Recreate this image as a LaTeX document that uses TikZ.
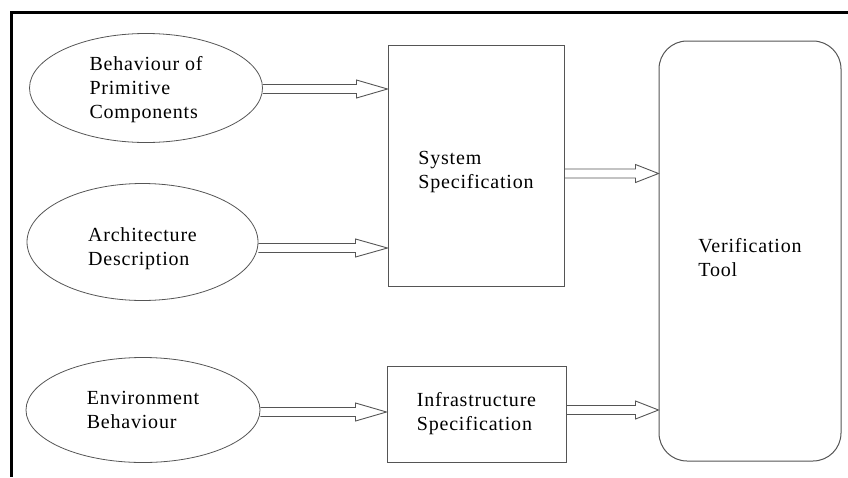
\documentclass[tikz,border=0pt]{standalone}
\usepackage{fontspec}
\setmainfont{Liberation Serif}[LetterSpace=4]
\usepackage{xcolor}
\usetikzlibrary{shapes,calc}
\definecolor{edgegray}{RGB}{85, 85, 85}

\tikzset{
  txt/.style={font=\fontsize{20}{24}\selectfont, align=left, inner sep=0pt},
  source/.style={txt, ellipse, draw=edgegray, line width=0.8pt},
  block/.style={txt, rectangle, draw=edgegray, line width=1pt},
  hollow/.style={draw=edgegray, line width=0.9pt, to path={
    let \p1=(\tikztostart), \p2=(\tikztotarget) in
    (\x1,{\y1+4.5pt}) -- ({\x2-#1},{\y1+4.5pt}) -- ({\x2-#1},{\y1+9pt}) -- (\x2,\y1)
    -- ({\x2-#1},{\y1-9pt}) -- ({\x2-#1},{\y1-4.5pt}) -- (\x1,{\y1-4.5pt})}}
}
% pushes a label down inside its shape
\newcommand{\pushdown}[1]{\rule{0pt}{#1}}

\begin{document}
\begin{tikzpicture}[x=1pt, y=-1pt]
            \useasboundingbox (0,0) rectangle (848,477);
            % frame
            \draw[line width=3pt] (848,12.5) -- (11.5,12.5) -- (11.5,477);

            % inputs
            \node[source, minimum width=233pt, minimum height=109pt] (behav) at (146,88) {\pushdown{18pt}Behaviour of\\Primitive\\Components};
            \node[source, minimum width=231pt, minimum height=117pt] (arch) at (142.5,242) {\pushdown{28pt}Architecture\\Description};
            \node[source, minimum width=234pt, minimum height=105pt] (env) at (143,410) {Environment\\Behaviour};

            % specifications
            \node[block, minimum width=176pt, minimum height=241pt] (sysspec) at (476,165.5) {\pushdown{26pt}System\\Specification};
            \node[block, minimum width=179pt, minimum height=96pt] (infra) at (476.5,414) {Infrastructure\\Specification};

            % tool
            \node[block, rounded corners=28pt, minimum width=182pt, minimum height=420pt] (verif) at (750,251) {\pushdown{28pt}Verification\\Tool};

            % Connecting arrows
            \draw[hollow=31pt] ([yshift=-1pt]behav.east) to (sysspec.west);
            \draw[hollow=32pt] ([yshift=-6pt]arch.east) to (sysspec.west);
            \draw[hollow=23pt] ([yshift=-8pt]sysspec.east) to (verif.west);
            \draw[hollow=31pt] ([yshift=-2pt]env.east) to (infra.west);
            \draw[hollow=23pt] ([yshift=4pt]infra.east) to (verif.west);
\end{tikzpicture}
\end{document}
